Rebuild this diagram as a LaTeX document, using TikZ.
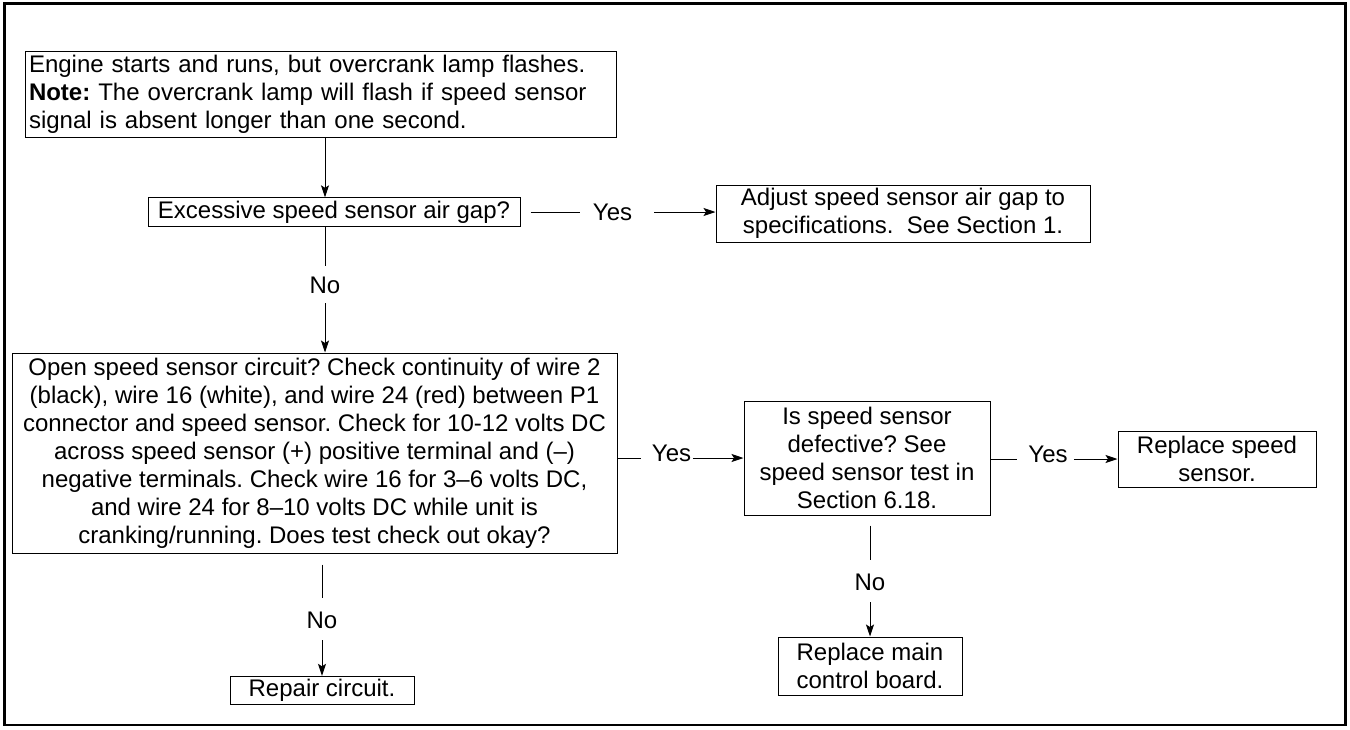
\documentclass[tikz,border=0pt]{standalone}
\usepackage{fontspec}
\setmainfont{Liberation Sans}
\usetikzlibrary{arrows.meta,calc}
\frenchspacing
\begin{document}
\begin{tikzpicture}[x=1pt,y=-1pt,
  box/.style={draw, line width=1pt, inner sep=3pt, align=center, font=\fontsize{24}{28}\selectfont},
  lbl/.style={inner sep=0pt, font=\fontsize{24}{28}\selectfont},
  con/.style={line width=1pt},
  arr/.style={line width=1pt, -{Stealth[length=12pt,width=8pt,inset=2.5pt]}}]
\useasboundingbox (0,0) rectangle (1350,729);
\draw[line width=2.6pt] (4.5,3.5) rectangle (1345.5,725);

\node[box, minimum width=591pt, minimum height=85pt, text width=583pt, inner sep=4pt, align=left] (b1) at (320.5,94.5)
  {Engine starts and runs, but overcrank lamp flashes.\\
   \textbf{Note:} The overcrank lamp will flash if speed sensor\\
   signal is absent longer than one second.};
\node[box, minimum width=372pt, minimum height=28pt] (b2) at (334,212) {Excessive speed sensor air gap?};
\node[box, minimum width=374pt, minimum height=57pt] (b3) at (903,213.5)
  {Adjust speed sensor air gap to\\ specifications.\ \ See Section 1.};
\node[box, minimum width=605pt, minimum height=200pt] (b4) at (314.5,453)
  {Open speed sensor circuit? Check continuity of wire 2\\
   (black), wire 16 (white), and wire 24 (red) between P1\\
   connector and speed sensor. Check for 10-12 volts DC\\
   across speed sensor (+) positive terminal and (--)\\
   negative terminals. Check wire 16 for 3--6 volts DC,\\
   and wire 24 for 8--10 volts DC while unit is\\
   cranking/running. Does test check out okay?};
\node[box, minimum width=246pt, minimum height=114pt] (b5) at (867,458)
  {Is speed sensor\\ defective? See\\ speed sensor test in\\ Section 6.18.};
\node[box, minimum width=198pt, minimum height=56pt] (b6) at (1217,459)
  {Replace speed\\ sensor.};
\node[box, minimum width=184pt, minimum height=27pt] (b7) at (322,690.5) {Repair circuit.};
\node[box, minimum width=184pt, minimum height=58pt] (b8) at (870,666)
  {Replace main\\ control board.};

% b1 -> b2
\coordinate (c1) at (325,0);
\draw[arr] (b1.south -| c1) -- (b2.north -| c1);

% b2 -> b3 (Yes)
\node[lbl] (y1) at (612.5,212.5) {Yes};
\coordinate (y1a) at ([xshift=22pt]y1.east);
\draw[con] ([xshift=10pt]b2.east) -- ++(49,0);
\draw[arr] (y1a |- b2.east) -- (b2.east -| b3.west);

% b2 -> b4 (No)
\node[lbl] (n1) at (325,285) {No};
\draw[con] (b2.south -| n1) -- ++(0,39);
\draw[arr] ([yshift=-9.5pt]n1.south) -- (b4.north -| n1);

% b4 -> b5 (Yes)
\node[lbl] (y2) at (671.5,453.5) {Yes};
\coordinate (y2a) at ([xshift=1.5pt]y2.east);
\draw[con] (b4.east |- b5.west) -- ++(23,0);
\draw[arr] (y2a |- b5.west) -- (b5.west);

% b5 -> b6 (Yes)
\node[lbl] (y3) at (1048,454) {Yes};
\coordinate (y3a) at ([xshift=6pt]y3.east);
\draw[con] (b5.east |- b6.west) -- ++(26,0);
\draw[arr] (y3a |- b6.west) -- (b6.west);

% b4 -> b7 (No)
\node[lbl] (n2) at (322,620) {No};
\draw[con] ([yshift=-11pt]b4.south -| n2) -- ++(0,33);
\draw[arr] ([yshift=-11.5pt]n2.south) -- (b7.north -| n2);

% b5 -> b8 (No)
\node[lbl] (n3) at (870,582) {No};
\draw[con] ([yshift=-10pt]b5.south -| n3) -- ++(0,34);
\draw[arr] ([yshift=-11.5pt]n3.south) -- (b8.north -| n3);
\end{tikzpicture}
\end{document}
